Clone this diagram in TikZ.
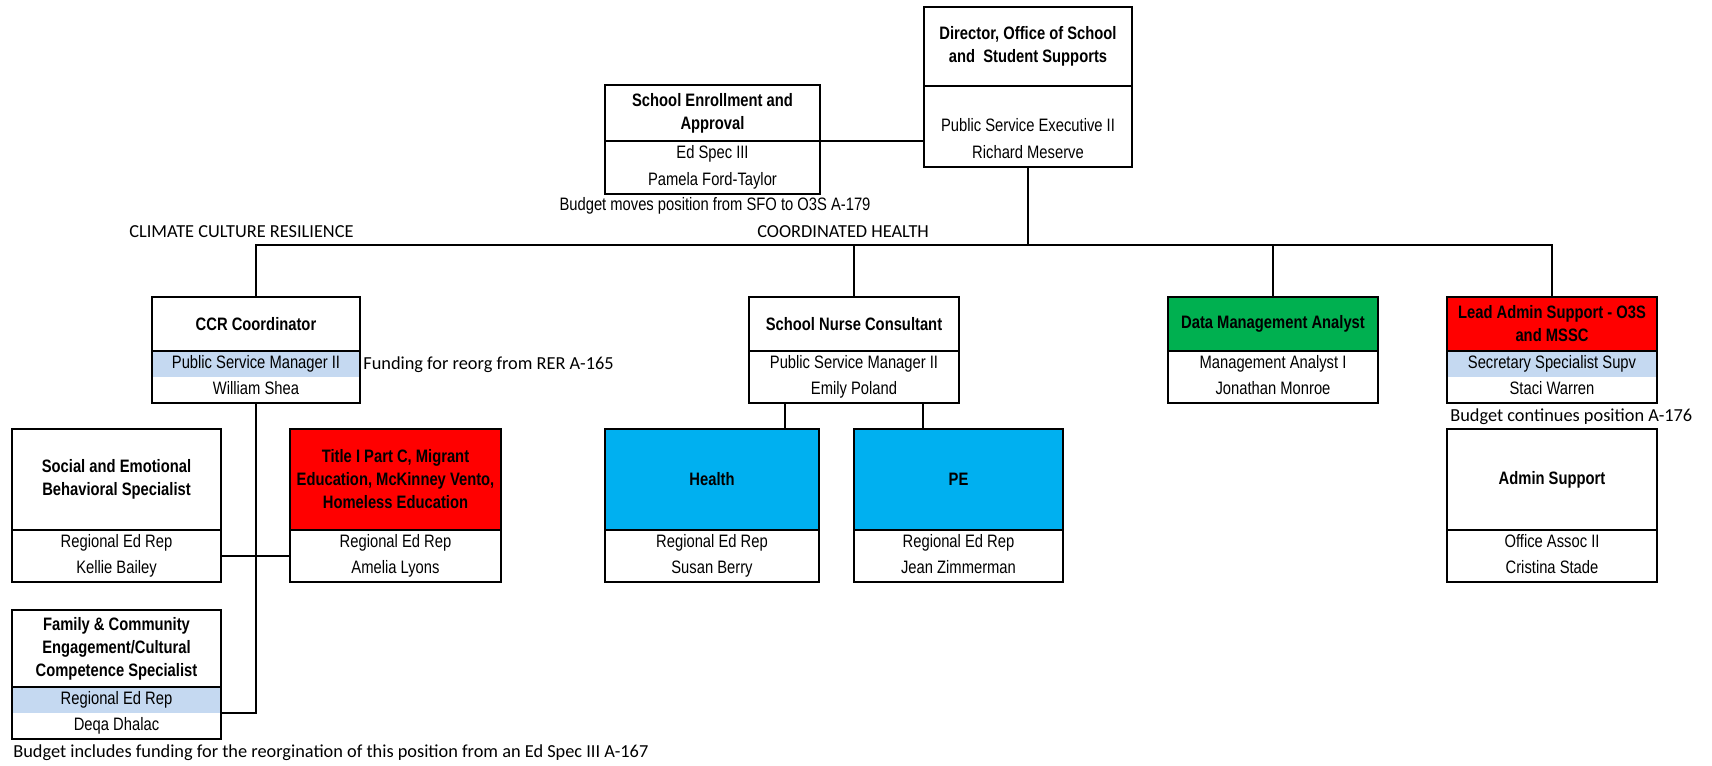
\documentclass[tikz,border=0pt]{standalone}
\usepackage{fontspec}
\setmainfont{Liberation Sans}
\newfontfamily\narrowfont[FakeStretch=0.82]{Liberation Sans}
\newfontfamily\calibfont{Carlito}
\usetikzlibrary{positioning}

\definecolor{bandblue}{HTML}{C5D9F1}
\definecolor{hdred}{HTML}{FF0000}
\definecolor{hdgreen}{HTML}{00B050}
\definecolor{hdcyan}{HTML}{00B0F0}

\tikzset{
  bw/.style={minimum width=#1*0.6pt},
  bh/.style={minimum height=#1*0.6pt},
  hd/.style={inner sep=0pt, outer sep=0pt, align=center,
    font=\narrowfont\bfseries\fontsize{10.8}{13.8}\selectfont},
  rw/.style={inner sep=0pt, outer sep=0pt, text height=8pt, text depth=2.5pt,
    minimum height=26*0.6pt, font=\narrowfont\fontsize{10.8}{13}\selectfont},
  outline/.style={line width=1.4pt},
  link/.style={line width=1.4pt},
  note/.style={inner sep=0pt, font=\calibfont\fontsize{11}{13}\selectfont},
}

\begin{document}
\begin{tikzpicture}[x=0.6pt, y=-0.6pt]
\useasboundingbox (0,0) rectangle (1712,765);

% top
\node[hd, bw=208, bh=79] (dir) at (1028,46.5) {Director, Office of School\\and\ \ Student Supports};
\node[rw, bw=208, bh=27, below=0pt of dir] (dir1) {};
\node[rw, bw=208, bh=27, below=0pt of dir1] (dir2) {Public Service Executive II};
\node[rw, bw=208, bh=27, below=0pt of dir2] (dir3) {Richard Meserve};
\draw[outline] (dir.north west) rectangle (dir3.south east) (dir.south west) -- (dir.south east);

\node[hd, bw=215, bh=56] (se) at (712.5,113) {School Enrollment and\\Approval};
\node[rw, bw=215, bh=26.5, below=0pt of se] (se1) {Ed Spec III};
\node[rw, bw=215, bh=26.5, below=0pt of se1] (se2) {Pamela Ford-Taylor};
\draw[outline] (se.north west) rectangle (se2.south east) (se.south west) -- (se.south east);
\node[inner sep=0pt, font=\narrowfont\fontsize{10.8}{13}\selectfont] (senote) at (715,206) {Budget moves position from SFO to O3S A-179};

% second row
\node[hd, bw=208, bh=54] (ccr) at (256,324) {CCR Coordinator};
\node[rw, bw=208, fill=bandblue, below=0pt of ccr] (ccr1) {Public Service Manager II};
\node[rw, bw=208, below=0pt of ccr1] (ccr2) {William Shea};
\draw[outline] (ccr.north west) rectangle (ccr2.south east) (ccr.south west) -- (ccr.south east);

\node[hd, bw=210, bh=54] (snc) at (854,324) {School Nurse Consultant};
\node[rw, bw=210, below=0pt of snc] (snc1) {Public Service Manager II};
\node[rw, bw=210, below=0pt of snc1] (snc2) {Emily Poland};
\draw[outline] (snc.north west) rectangle (snc2.south east) (snc.south west) -- (snc.south east);

\node[hd, bw=210, bh=54, fill=hdgreen] (dma) at (1273,324) {Data Management Analyst};
\node[rw, bw=210, below=0pt of dma] (dma1) {Management Analyst I};
\node[rw, bw=210, below=0pt of dma1] (dma2) {Jonathan Monroe};
\draw[outline] (dma.north west) rectangle (dma2.south east) (dma.south west) -- (dma.south east);

\node[hd, bw=210, bh=54, fill=hdred] (las) at (1552,324) {Lead Admin Support - O3S\\and MSSC};
\node[rw, bw=210, fill=bandblue, below=0pt of las] (las1) {Secretary Specialist Supv};
\node[rw, bw=210, below=0pt of las1] (las2) {Staci Warren};
\draw[outline] (las.north west) rectangle (las2.south east) (las.south west) -- (las.south east);

% third row
\node[hd, bw=209, bh=101] (soc) at (116.5,479.5) {Social and Emotional\\Behavioral Specialist};
\node[rw, bw=209, below=0pt of soc] (soc1) {Regional Ed Rep};
\node[rw, bw=209, below=0pt of soc1] (soc2) {Kellie Bailey};
\draw[outline] (soc.north west) rectangle (soc2.south east) (soc.south west) -- (soc.south east);

\node[hd, bw=211, bh=101, fill=hdred] (tit) at (395.5,479.5) {Title I Part C, Migrant\\Education, McKinney Vento,\\Homeless Education};
\node[rw, bw=211, below=0pt of tit] (tit1) {Regional Ed Rep};
\node[rw, bw=211, below=0pt of tit1] (tit2) {Amelia Lyons};
\draw[outline] (tit.north west) rectangle (tit2.south east) (tit.south west) -- (tit.south east);

\node[hd, bw=214, bh=101, fill=hdcyan] (hea) at (712,479.5) {Health};
\node[rw, bw=214, below=0pt of hea] (hea1) {Regional Ed Rep};
\node[rw, bw=214, below=0pt of hea1] (hea2) {Susan Berry};
\draw[outline] (hea.north west) rectangle (hea2.south east) (hea.south west) -- (hea.south east);

\node[hd, bw=209, bh=101, fill=hdcyan] (pe) at (958.5,479.5) {PE};
\node[rw, bw=209, below=0pt of pe] (pe1) {Regional Ed Rep};
\node[rw, bw=209, below=0pt of pe1] (pe2) {Jean Zimmerman};
\draw[outline] (pe.north west) rectangle (pe2.south east) (pe.south west) -- (pe.south east);

\node[hd, bw=210, bh=101] (adm) at (1552,479.5) {Admin Support};
\node[rw, bw=210, below=0pt of adm] (adm1) {Office Assoc II};
\node[rw, bw=210, below=0pt of adm1] (adm2) {Cristina Stade};
\draw[outline] (adm.north west) rectangle (adm2.south east) (adm.south west) -- (adm.south east);

% bottom left
\node[hd, bw=209, bh=77] (fam) at (116.5,648.5) {Family \& Community\\Engagement/Cultural\\Competence Specialist};
\node[rw, bw=209, fill=bandblue, below=0pt of fam] (fam1) {Regional Ed Rep};
\node[rw, bw=209, below=0pt of fam1] (fam2) {Deqa Dhalac};
\draw[outline] (fam.north west) rectangle (fam2.south east) (fam.south west) -- (fam.south east);

% connectors
\coordinate (bus) at (1028,245);
\draw[link] (dir3.south) -- (bus);
\draw[link] (ccr.north) |- (bus);
\draw[link] (snc.north) |- (bus);
\draw[link] (dma.north) |- (bus);
\draw[link] (las.north) |- (bus);
\draw[link] (se1.north east) -- (se1.north east -| dir.west);
\draw[link] (ccr2.south) |- (fam1.south east);
\draw[link] (soc1.south east) -- (tit1.south west);
\coordinate (sncL) at ([xshift=21.6pt]snc2.south west);
\coordinate (sncR) at ([xshift=-21.6pt]snc2.south east);
\draw[link] (sncL) -- (sncL |- hea.north);
\draw[link] (sncR) -- (sncR |- pe.north);

% notes
\node[note, anchor=west] (clim) at (129,232) {CLIMATE CULTURE RESILIENCE};
\node[note, anchor=west] (coord) at (757,232) {COORDINATED HEALTH};
\node[note, anchor=west] (ccrnote) at (363,365) {Funding for reorg from RER A-165};
\node[note, anchor=west] (lasnote) at (1450,417) {Budget continues position A-176};
\node[note, anchor=west] (famnote) at (13,753) {Budget includes funding for the reorgination of this position from an Ed Spec III A-167};
\end{tikzpicture}
\end{document}
